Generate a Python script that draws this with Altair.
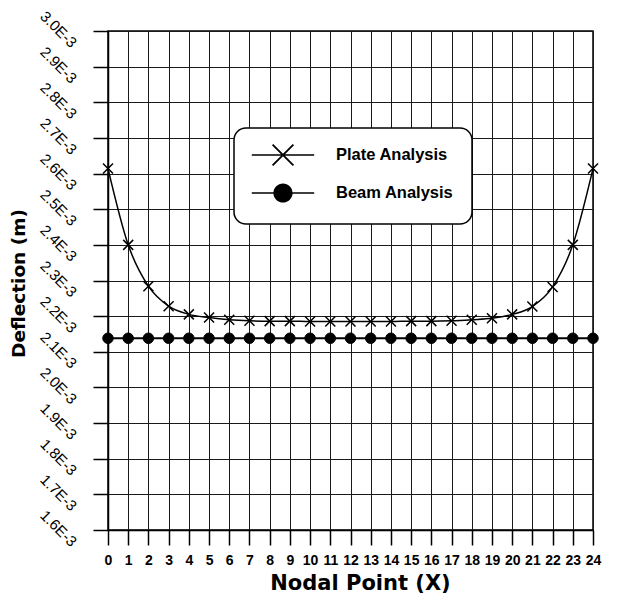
import altair as alt
import pandas as pd

# ---------------- data ----------------
nodes = [0, 1, 2, 3, 4, 5, 6, 7, 8, 9, 10, 11, 12, 13, 14, 15, 16, 17, 18, 19, 20, 21, 22, 23, 24]
plate = [2.614e-3, 2.400e-3, 2.284e-3, 2.228e-3, 2.205e-3, 2.196e-3, 2.190e-3, 2.187e-3,
         2.186e-3, 2.186e-3, 2.185e-3, 2.185e-3, 2.185e-3, 2.185e-3, 2.185e-3, 2.186e-3,
         2.186e-3, 2.187e-3, 2.190e-3, 2.194e-3, 2.205e-3, 2.227e-3, 2.282e-3, 2.400e-3, 2.614e-3]
beam = [2.138e-3, 2.138e-3, 2.138e-3, 2.138e-3, 2.138e-3, 2.138e-3, 2.138e-3, 2.138e-3,
        2.138e-3, 2.138e-3, 2.138e-3, 2.138e-3, 2.138e-3, 2.138e-3, 2.138e-3, 2.138e-3,
        2.138e-3, 2.138e-3, 2.138e-3, 2.138e-3, 2.138e-3, 2.138e-3, 2.138e-3, 2.138e-3, 2.138e-3]
series_names = ["Plate Analysis", "Beam Analysis"]
y_ticks = [1.6e-3, 1.7e-3, 1.8e-3, 1.9e-3, 2.0e-3, 2.1e-3, 2.2e-3, 2.3e-3,
           2.4e-3, 2.5e-3, 2.6e-3, 2.7e-3, 2.8e-3, 2.9e-3, 3.0e-3]
x_ticks = nodes

df = pd.DataFrame({
    "node": nodes + nodes,
    "defl": plate + beam,
    "series": [series_names[0]] * len(nodes) + [series_names[1]] * len(nodes),
})

# marker shapes (unit = half the symbol size); legend glyphs are built from filled outlines
X_PATH = "M-1,-1L1,1M-1,1L1,-1"
LEG_LINE = "M-3.9,-0.1H3.9V0.1H-3.9Z"
LEG_X = ("M-1.22,-1.38L1.38,1.22L1.22,1.38L-1.38,-1.22Z"
         "M-1.38,1.22L1.22,-1.38L1.38,-1.22L-1.22,1.38Z")
LEG_DOT = "M-1.2,0A1.2,1.2 0 1,1 1.2,0A1.2,1.2 0 1,1 -1.2,0Z"
LEG_PLATE = LEG_LINE + LEG_X
LEG_BEAM = LEG_LINE + LEG_DOT

x_enc = alt.X(
    "node:Q",
    scale=alt.Scale(domain=[0, 24], nice=False, zero=False),
    axis=alt.Axis(
        values=x_ticks, title="Nodal Point (X)", format="d",
        labelFont="Liberation Sans", labelFontSize=14, labelFontWeight="bold",
        labelColor="black", labelPadding=8, labelOverlap=False, labelFlush=False,
        labelBound=False,
        titleFont="DejaVu Sans", titleFontSize=21, titleFontWeight="bold",
        titleColor="black", titleY=53, titleX=252, titleBaseline="middle",
    ),
)
y_enc = alt.Y(
    "defl:Q",
    scale=alt.Scale(domain=[1.6e-3, 3.0e-3], nice=False, zero=False),
    axis=alt.Axis(
        values=y_ticks, title="Deflection (m)",
        labelExpr="format(datum.value * 1000, '.1f') + 'E-3'",
        labelFont="Liberation Sans", labelFontSize=15, labelColor="black",
        labelAngle=45, labelAlign="center", labelBaseline="middle",
        labelPadding=35, labelOffset=-2, labelOverlap=False, labelFlush=False,
        labelBound=False,
        titleFont="DejaVu Sans", titleFontSize=18.5, titleFontWeight="bold",
        titleColor="black", titleAngle=-90, titleX=-90, titleY=252,
        titleAlign="center", titleBaseline="middle",
    ),
)

base = alt.Chart(df)

plate_line = base.transform_filter(alt.datum.series == series_names[0]).mark_line(
    color="black", strokeWidth=1.5, interpolate="monotone"
).encode(x=x_enc, y=y_enc)

beam_line = base.transform_filter(alt.datum.series == series_names[1]).mark_line(
    color="black", strokeWidth=2
).encode(x=x_enc, y=y_enc)

plate_pts = base.transform_filter(alt.datum.series == series_names[0]).mark_point(
    shape=X_PATH, stroke="black", strokeWidth=1.5, size=100, filled=False, opacity=1
).encode(x=x_enc, y=y_enc)

beam_pts = base.transform_filter(alt.datum.series == series_names[1]).mark_point(
    shape="circle", fill="black", stroke="black", strokeWidth=1, size=110, filled=True, opacity=1
).encode(x=x_enc, y=y_enc)

legend = alt.Legend(
    title=None, orient="none", legendX=126, legendY=97,
    fillColor="white", strokeColor="black", cornerRadius=12, padding=18,
    labelFont="Liberation Sans", labelFontSize=16.5, labelFontWeight="bold",
    labelColor="black", labelOffset=44, symbolOffset=22, symbolSize=256,
    rowPadding=10, labelBaseline="middle",
    symbolFillColor="black", symbolOpacity=1,
)

# legend-only layer (no rows drawn, entries come from the fixed shape domain)
legend_layer = base.transform_filter("false").mark_point(
    filled=True, fill="black", size=256, opacity=1
).encode(
    x=x_enc, y=y_enc,
    shape=alt.Shape("series:N", scale=alt.Scale(domain=series_names, range=[LEG_PLATE, LEG_BEAM]),
                    legend=legend),
)

chart = alt.layer(plate_line, beam_line, plate_pts, beam_pts, legend_layer).properties(
    width=485, height=499,
    autosize=alt.AutoSizeParams(type="none"),
    padding={"left": 108, "top": 31, "right": 35, "bottom": 72},
    background="white",
).configure_view(
    stroke="black", strokeWidth=1.5
).configure_axis(
    grid=True, gridColor="#1a1a1a", gridWidth=1, gridOpacity=1,
    domainColor="black", domainWidth=1.5,
    tickColor="black", tickWidth=1.5, tickSize=15,
).configure_legend(
    strokeWidth=1.5
)

chart.save("out.html", embed_options={"renderer": "svg", "actions": False})
